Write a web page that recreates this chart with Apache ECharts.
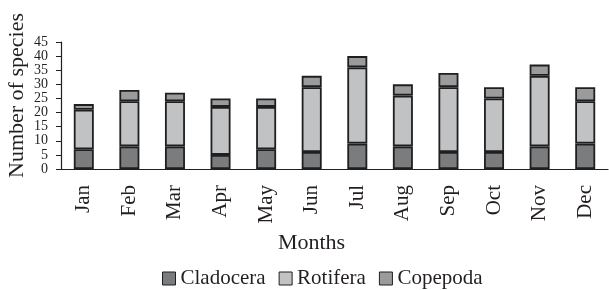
<!DOCTYPE html>
<html>
<head>
<meta charset="utf-8">
<script src="https://cdn.jsdelivr.net/npm/echarts@6/dist/echarts.min.js"></script>
<style>
  html, body { margin: 0; padding: 0; background: #fff; }
  #chart { width: 609px; height: 290px; }
</style>
</head>
<body>
<div id="chart"></div>
<script>
var months = ['Jan', 'Feb', 'Mar', 'Apr', 'May', 'Jun', 'Jul', 'Aug', 'Sep', 'Oct', 'Nov', 'Dec'];
var cladocera = [7, 8, 8, 5, 7, 6, 9, 8, 6, 6, 8, 9];
var rotifera = [14, 16, 16, 17, 15, 23, 27, 18, 23, 19, 25, 15];
var copepoda = [2, 4, 3, 3, 3, 4, 4, 4, 5, 4, 4, 5];

var font = 'Liberation Serif';
var ink = '#231f20';
var chart = echarts.init(document.getElementById('chart'));

function barSeries(name, data, color) {
    return {
        name: name,
        type: 'bar',
        stack: 'total',
        data: data,
        barWidth: 20,
        itemStyle: { color: color, borderColor: '#1f1f1f', borderWidth: 1.8 }
    };
}

var option = {
    animation: false,
    grid: { left: 61, right: 1, top: 42, bottom: 121, outerBoundsMode: 'none', containLabel: false },
    legend: {
        top: 263,
        left: 157,
        itemWidth: 13,
        itemHeight: 13,
        itemGap: 13,
        icon: 'rect',
        textStyle: { fontFamily: font, fontSize: 21, color: ink },
        itemStyle: { borderColor: '#1f1f1f', borderWidth: 1 }
    },
    xAxis: {
        type: 'category',
        data: months,
        name: 'Months',
        nameLocation: 'middle',
        nameGap: 63,
        nameMoveOverlap: false,
        nameTextStyle: { fontFamily: font, fontSize: 22, color: ink, padding: [0, 46, 0, 0] },
        axisLine: { lineStyle: { color: ink, width: 1.2 } },
        axisTick: { length: 5, lineStyle: { color: ink } },
        axisLabel: { rotate: 90, fontFamily: font, fontSize: 21, color: ink, margin: 16 }
    },
    yAxis: {
        type: 'value',
        min: 0,
        max: 45,
        interval: 5,
        name: 'Number of species',
        nameLocation: 'middle',
        nameGap: 33,
        nameMoveOverlap: false,
        nameTextStyle: { fontFamily: font, fontSize: 22, color: ink, padding: [0, 0, 0, 20] },
        axisLine: { show: true, lineStyle: { color: ink, width: 1.2 } },
        axisTick: { show: true, length: 5, lineStyle: { color: ink } },
        axisLabel: {
            fontFamily: font, fontSize: 14, lineHeight: 10, color: ink, margin: 13,
            showMinLabel: true, showMaxLabel: true, hideOverlap: false
        },
        splitLine: { show: false }
    },
    series: [
        barSeries('Cladocera', cladocera, '#7b7c7e'),
        barSeries('Rotifera', rotifera, '#c1c2c4'),
        barSeries('Copepoda', copepoda, '#9a9b9d')
    ]
};

chart.setOption(option);
</script>
</body>
</html>
